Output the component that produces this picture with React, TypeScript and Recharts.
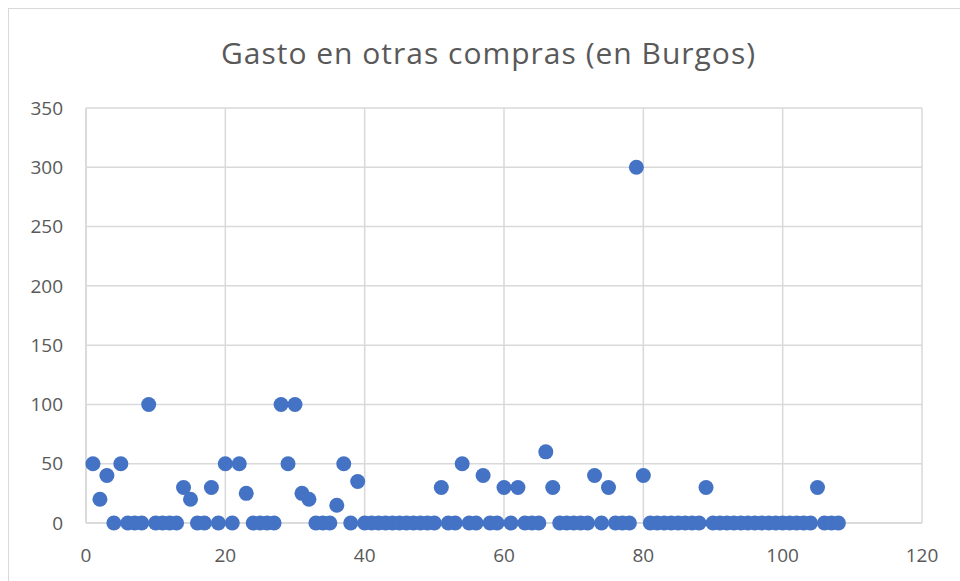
import React from "react";
import { ScatterChart, Scatter, XAxis, YAxis, CartesianGrid } from "recharts";

const title = "Gasto en otras compras (en Burgos)";

// Gasto por caso (caso = posición 1..108)
const gasto: number[] = [
  50, 20, 40, 0, 50, 0, 0, 0, 100, 0,
  0, 0, 0, 30, 20, 0, 0, 30, 0, 50,
  0, 50, 25, 0, 0, 0, 0, 100, 50, 100,
  25, 20, 0, 0, 0, 15, 50, 0, 35, 0,
  0, 0, 0, 0, 0, 0, 0, 0, 0, 0,
  30, 0, 0, 50, 0, 0, 40, 0, 0, 30,
  0, 30, 0, 0, 0, 60, 30, 0, 0, 0,
  0, 0, 40, 0, 30, 0, 0, 0, 300, 40,
  0, 0, 0, 0, 0, 0, 0, 0, 30, 0,
  0, 0, 0, 0, 0, 0, 0, 0, 0, 0,
  0, 0, 0, 0, 30, 0, 0, 0,
];

const xTicks = [0, 20, 40, 60, 80, 100, 120];
const yTicks = [0, 50, 100, 150, 200, 250, 300, 350];

const data = gasto.map((v, i) => ({ caso: i + 1, gasto: v }));

const FONT = "'Open Sans', 'Noto Sans', sans-serif";
const TEXT = "#595959";
const GRID = "#d9d9d9";
const BLUE = "#4472c4";

const Dot = (props: any) => {
  const { cx, cy } = props;
  if (cx == null || cy == null) return null;
  return <circle cx={cx} cy={cy} r={7.5} fill={BLUE} />;
};

export default function App() {
  return (
    <div
      style={{
        position: "fixed",
        left: 0,
        top: 0,
        width: 960,
        height: 581,
        background: "#fff",
        overflow: "hidden",
        fontFamily: FONT,
      }}
    >
      <div
        style={{
          position: "absolute",
          left: 8,
          top: 8,
          width: 1000,
          height: 700,
          border: `1px solid ${GRID}`,
        }}
      />
      <div
        style={{
          position: "absolute",
          left: 0,
          top: 35,
          width: 977,
          textAlign: "center",
          fontSize: 30,
          letterSpacing: 1,
          color: TEXT,
          lineHeight: "36px",
          whiteSpace: "nowrap",
        }}
      >
        {title}
      </div>
      <div style={{ position: "absolute", left: 0, top: 0 }}>
        <ScatterChart
          width={960}
          height={581}
          margin={{ top: 108, right: 38, bottom: 0, left: 0 }}
        >
          <CartesianGrid stroke={GRID} strokeWidth={1.5} vertical horizontal />
          <XAxis
            type="number"
            dataKey="caso"
            domain={[0, 120]}
            ticks={xTicks}
            height={58}
            tickSize={0}
            tickMargin={26}
            axisLine={{ stroke: GRID, strokeWidth: 1.5 }}
            tickLine={false}
            tick={{ fill: TEXT, fontSize: 19, fontFamily: FONT }}
            interval={0}
          />
          <YAxis
            type="number"
            dataKey="gasto"
            domain={[0, 350]}
            ticks={yTicks}
            width={86}
            tickSize={0}
            tickMargin={23}
            axisLine={{ stroke: GRID, strokeWidth: 1.5 }}
            tickLine={false}
            tick={{ fill: TEXT, fontSize: 19, fontFamily: FONT }}
            interval={0}
          />
          <Scatter data={data} shape={Dot} isAnimationActive={false} />
        </ScatterChart>
      </div>
    </div>
  );
}
